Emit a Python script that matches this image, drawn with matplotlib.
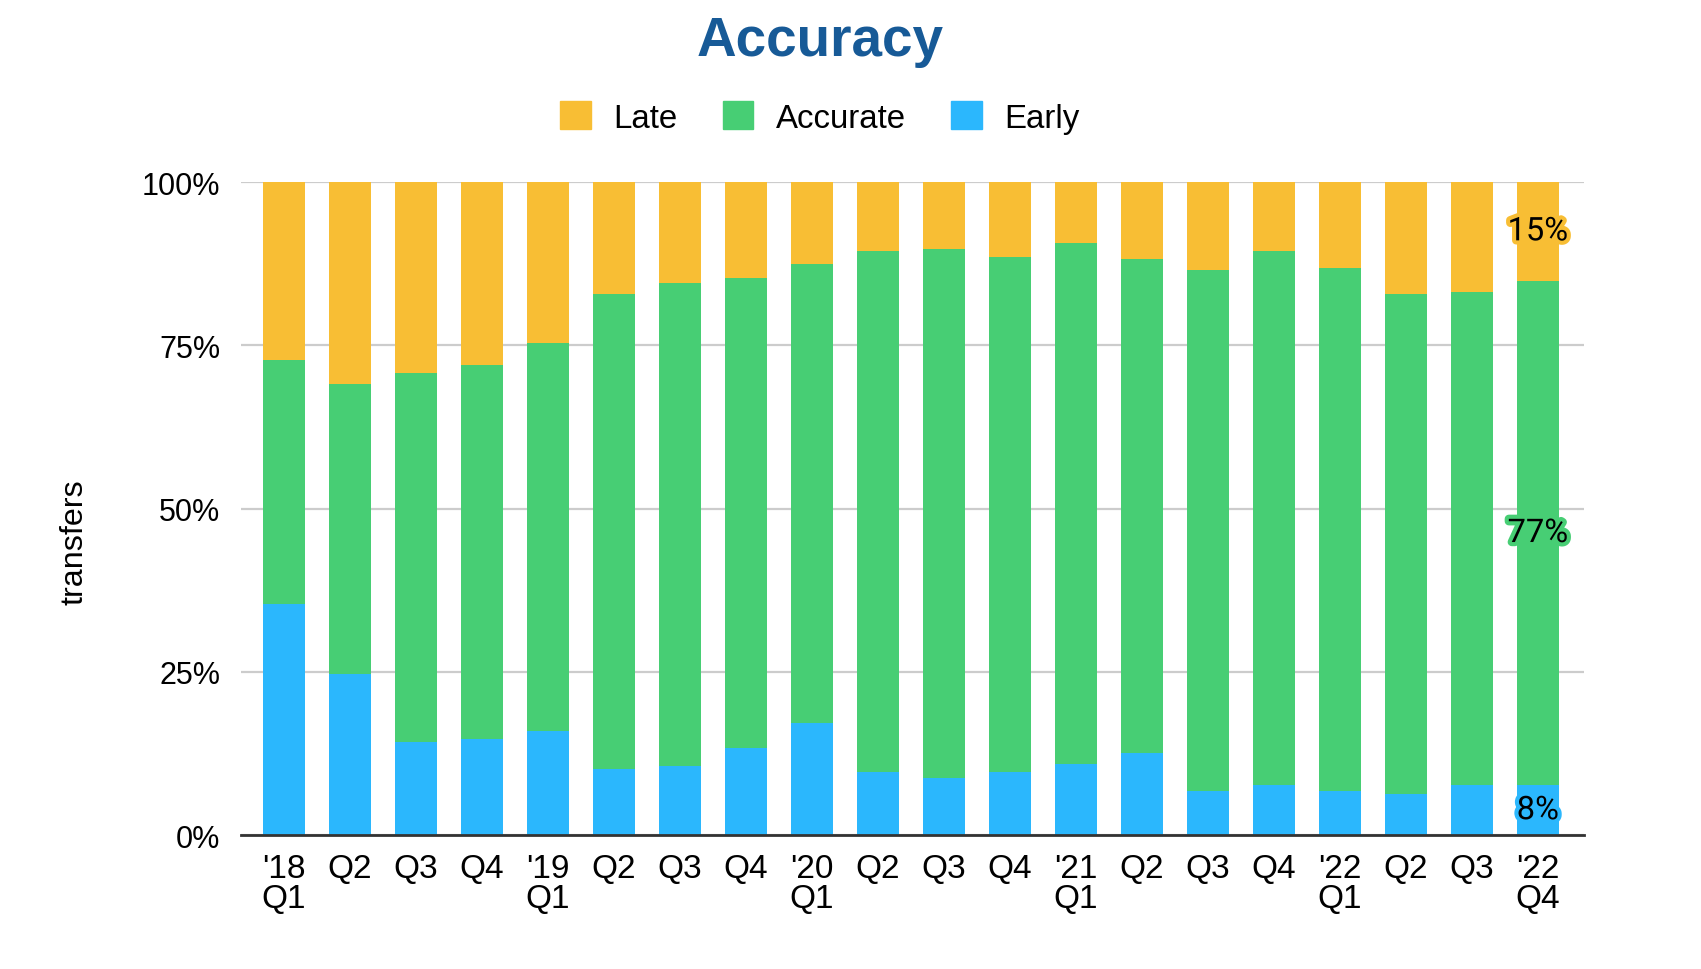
import matplotlib.pyplot as plt
import matplotlib.patheffects as pe
from matplotlib.patches import Patch
from matplotlib.ticker import FuncFormatter

# Quarter labels (two lines for the first quarter of a year)
quarters = ["'18\nQ1", "Q2", "Q3", "Q4", "'19\nQ1", "Q2", "Q3", "Q4", "'20\nQ1", "Q2",
            "Q3", "Q4", "'21\nQ1", "Q2", "Q3", "Q4", "'22\nQ1", "Q2", "Q3", "'22\nQ4"]

# Share of transfers in each bucket [%]
early = [35.4, 24.6, 14.2, 14.7, 15.9, 10.1, 10.5, 13.4, 17.2, 9.6,
         8.8, 9.7, 10.9, 12.6, 6.8, 7.6, 6.8, 6.3, 7.6, 7.6]
accurate = [37.4, 44.5, 56.5, 57.3, 59.4, 72.7, 74.0, 71.9, 70.2, 79.8,
            81.0, 78.8, 79.7, 75.6, 79.7, 81.8, 80.1, 76.5, 75.6, 77.3]
late = [27.2, 30.9, 29.3, 28.0, 24.7, 17.2, 15.5, 14.7, 12.6, 10.6,
        10.2, 11.5, 9.4, 11.8, 13.5, 10.6, 13.1, 17.2, 16.8, 15.1]

COLORS = {"Late": "#F8BE34", "Accurate": "#47CE74", "Early": "#2BB7FD"}
TITLE_COLOR = "#175A97"
FONT_SIZES = {"title": 39.5, "legend": 23.8, "yticks": 22, "xticks": 24, "ylabel": 23.2, "labels": 23.5}

plt.rcParams['font.family'] = ['Liberation Sans', 'DejaVu Sans']

fig = plt.figure(figsize=(17.01, 9.70), dpi=100)
ax = fig.add_axes([0.1417, 0.1381, 0.9312 - 0.1417, 0.8113 - 0.1381])

xs = list(range(len(quarters)))
bottom_acc = early
bottom_late = [e + a for e, a in zip(early, accurate)]
width = 0.64

ax.bar(xs, early, width, color=COLORS["Early"], linewidth=0, zorder=3)
ax.bar(xs, accurate, width, bottom=bottom_acc, color=COLORS["Accurate"], linewidth=0, zorder=3)
ax.bar(xs, late, width, bottom=bottom_late, color=COLORS["Late"], linewidth=0, zorder=3)

# Data labels on the last bar only, with a halo in the segment colour
last = len(xs) - 1
for value, base, name in [(early[last], 0, "Early"),
                          (accurate[last], bottom_acc[last], "Accurate"),
                          (late[last], bottom_late[last], "Late")]:
    ax.text(last, base + value / 2, f"{round(value)}%", ha="center", va="center",
            fontsize=FONT_SIZES["labels"], family=["Roboto", "DejaVu Sans"], color="black", zorder=5,
            path_effects=[pe.withStroke(linewidth=6, foreground=COLORS[name])])

# Axes styling
ax.set_xlim(-0.65, len(xs) - 1 + 0.7)
ax.set_ylim(0, 100)
ax.set_yticks([0, 25, 50, 75, 100])
ax.yaxis.set_major_formatter(FuncFormatter(lambda v, p: f"{int(v)}%"))
ax.set_xticks(xs)
ax.set_xticklabels(quarters, linespacing=0.95)
ax.tick_params(axis="y", length=0, pad=15, labelsize=FONT_SIZES["yticks"])
ax.tick_params(axis="x", length=0, pad=13, labelsize=FONT_SIZES["xticks"])
ax.grid(axis="y", color="#CCCCCC", linewidth=1.6, zorder=0)
for side in ["top", "right", "left"]:
    ax.spines[side].set_visible(False)
ax.spines["bottom"].set_color("#333333")
ax.spines["bottom"].set_linewidth(2)
ax.spines["bottom"].set_zorder(4)

ax.set_ylabel("transfers", fontsize=FONT_SIZES["ylabel"])
ax.yaxis.set_label_coords(-0.113, 0.45)

# Title and legend
fig.text(0.482, 0.957, "Accuracy", ha="center", va="center", fontsize=FONT_SIZES["title"],
         fontweight="bold", color=TITLE_COLOR)
handles = [Patch(color=COLORS[n], label=n) for n in ["Late", "Accurate", "Early"]]
fig.legend(handles=handles, loc="center", bbox_to_anchor=(0.482, 0.878), ncol=3,
           frameon=False, fontsize=FONT_SIZES["legend"], handlelength=0.93, handleheight=0.93,
           handletextpad=0.69, columnspacing=1.35)

fig.savefig("out.png", dpi=100)
